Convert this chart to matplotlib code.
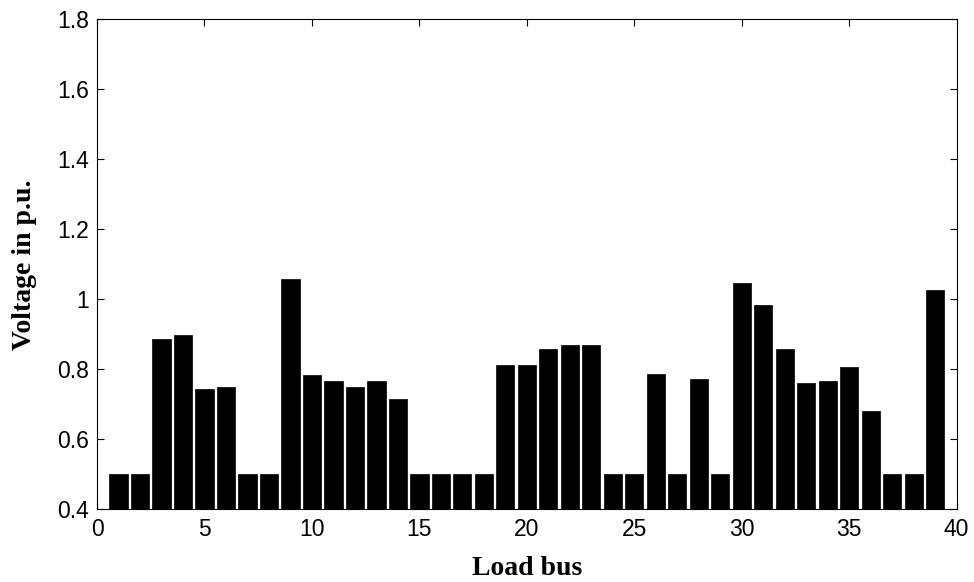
import matplotlib.pyplot as plt
from matplotlib.ticker import FixedLocator, FixedFormatter

# load bus voltages (p.u.)
buses = list(range(1, 40))
voltages = [0.50, 0.50, 0.886, 0.898, 0.744, 0.750, 0.50, 0.50, 1.058, 0.784,
            0.767, 0.750, 0.767, 0.716, 0.50, 0.50, 0.50, 0.50, 0.812, 0.812,
            0.858, 0.869, 0.869, 0.50, 0.50, 0.788, 0.50, 0.772, 0.50, 1.046,
            0.984, 0.858, 0.761, 0.767, 0.807, 0.681, 0.50, 0.50, 1.028]

xticks = [0, 5, 10, 15, 20, 25, 30, 35, 40]
yticks = [0.4, 0.6, 0.8, 1.0, 1.2, 1.4, 1.6, 1.8]
ytick_labels = ['0.4', '0.6', '0.8', '1', '1.2', '1.4', '1.6', '1.8']

if __name__ == '__main__':
    fig = plt.figure(figsize=(9.74, 5.82), dpi=100)
    ax = fig.add_axes([0.0996, 0.1246, 0.8826, 0.842])

    ax.bar(buses, voltages, width=0.85, color='black', edgecolor='black', linewidth=0.5)

    ax.set_xlim(0, 40)
    ax.set_ylim(0.4, 1.8)
    ax.xaxis.set_major_locator(FixedLocator(xticks))
    ax.yaxis.set_major_locator(FixedLocator(yticks))
    ax.yaxis.set_major_formatter(FixedFormatter(ytick_labels))
    ax.tick_params(direction='in', length=5, width=0.8, top=True, right=True,
                   labelsize=16.5, pad=6)
    for lab in ax.get_xticklabels() + ax.get_yticklabels():
        lab.set_family('Liberation Sans')
    for s in ax.spines.values():
        s.set_linewidth(0.8)

    ax.set_xlabel('Load bus', fontsize=20, fontweight='bold', family='Liberation Serif', labelpad=11)
    ax.set_ylabel('Voltage in p.u.', fontsize=20, fontweight='bold', family='Liberation Serif', labelpad=14)

    fig.savefig('out.png', dpi=100)
